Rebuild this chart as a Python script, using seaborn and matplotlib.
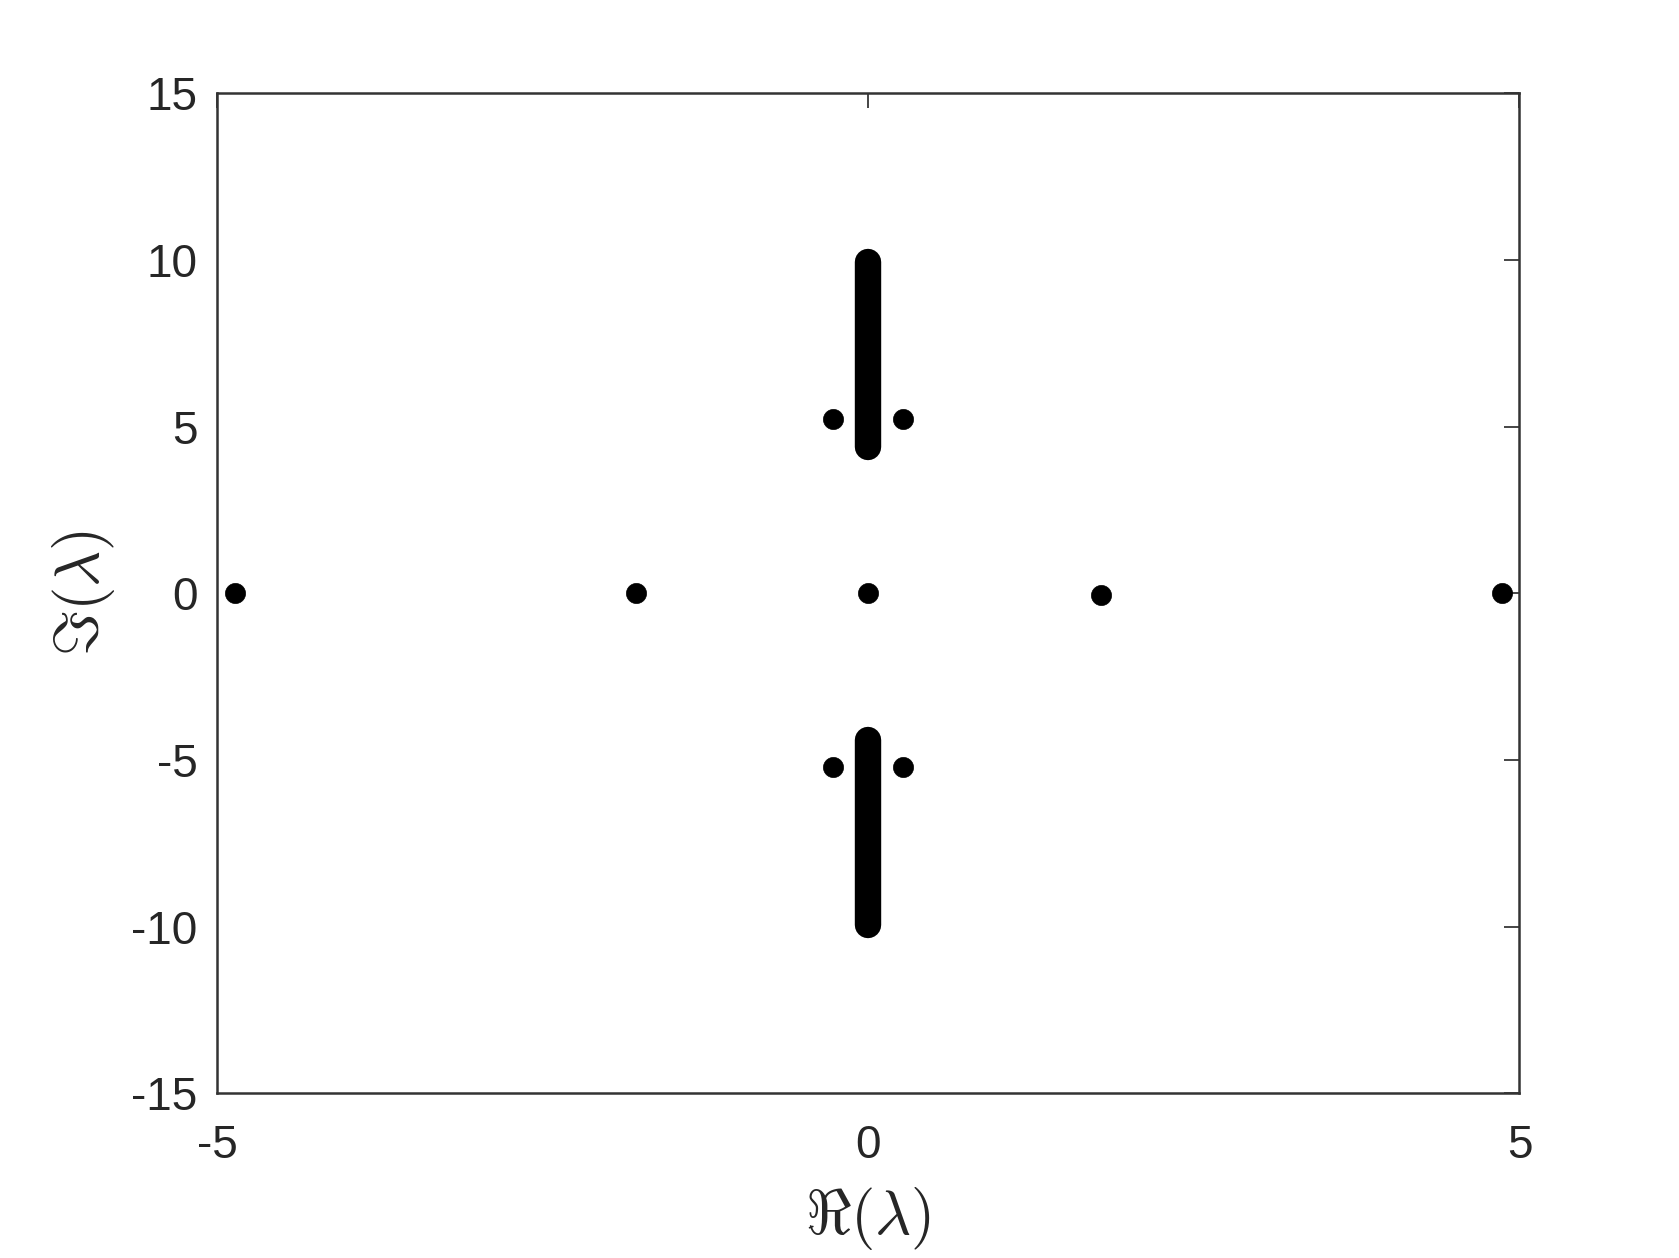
import seaborn as sns
import matplotlib.pyplot as plt
import pandas as pd

# Isolated eigenvalues (real part, imaginary part)
re_pts = [-4.865, -1.785, 0.0, 1.786, 4.865, -0.27, 0.27, -0.27, 0.27]
im_pts = [0.0, 0.0, 0.0, -0.05, 0.0, 5.22, 5.22, -5.22, -5.22]

# Continuous spectrum bands on the imaginary axis (start, end)
band_re = [0.0, 0.0]
band_lo = [4.4, -9.95]
band_hi = [9.95, -4.4]

xticks = [-5, 0, 5]
yticks = [-15, -10, -5, 0, 5, 10, 15]

pts = pd.DataFrame({'re': re_pts, 'im': im_pts})

sns.set_theme(style='white')
plt.rcParams['font.family'] = ['Liberation Sans', 'DejaVu Sans']
plt.rcParams['mathtext.fontset'] = 'cm'

fig = plt.figure(figsize=(16.79, 12.58), dpi=100)
ax = fig.add_axes([0.1292, 0.1309, 0.7758, 0.7950])

for r, lo, hi in zip(band_re, band_lo, band_hi):
    ax.plot([r, r], [lo, hi], color='black', linewidth=19, solid_capstyle='round', zorder=3)

sns.scatterplot(x='re', y='im', data=pts, color='black', s=210, edgecolor='black',
                linewidth=0.5, ax=ax, zorder=4)

ax.set_xlim(-5, 5)
ax.set_ylim(-15, 15)
ax.set_xticks(xticks)
ax.set_yticks(yticks)
ax.set_xticklabels([str(t) for t in xticks])
ax.set_yticklabels([str(t) for t in yticks])
ax.tick_params(direction='in', length=11, width=1.2, colors='#262626', labelsize=33,
               top=True, right=True)
ax.tick_params(axis='x', pad=22)
ax.tick_params(axis='y', pad=14)
for s in ax.spines.values():
    s.set_color('#333333')
    s.set_linewidth(1.8)

ax.set_xlabel(r'$\Re(\lambda)$', fontsize=45, color='#262626', labelpad=12)
ax.set_ylabel(r'$\Im(\lambda)$', fontsize=45, color='#262626', labelpad=10)

fig.savefig('out.png', dpi=100, facecolor='white')
